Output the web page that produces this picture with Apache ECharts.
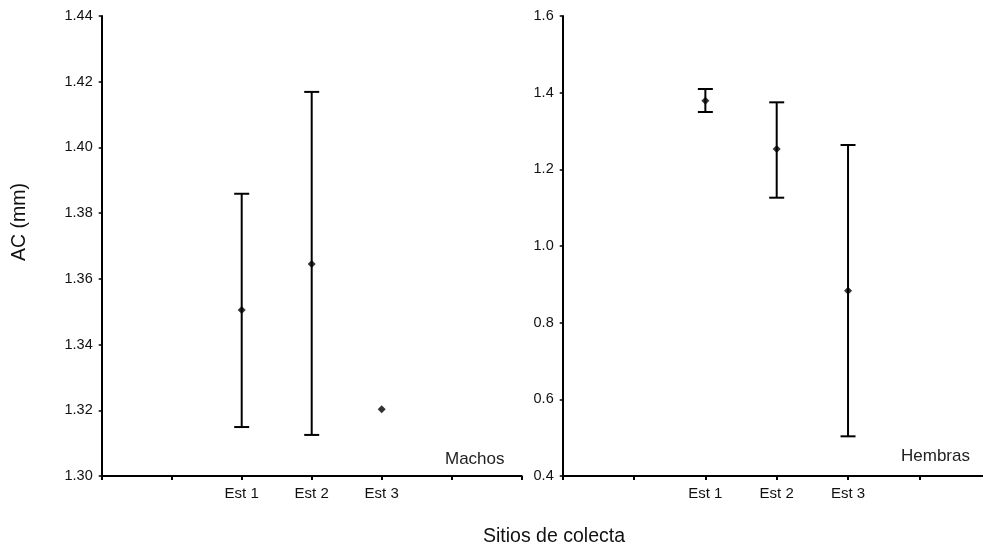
<!DOCTYPE html>
<html>
<head>
<meta charset="utf-8">
<script src="https://cdn.jsdelivr.net/npm/echarts@6/dist/echarts.min.js"></script>
<style>
  html, body { margin: 0; padding: 0; background: #fff; }
  #chart { width: 983px; height: 551px; }
</style>
</head>
<body>
<div id="chart"></div>
<script>
// Collection sites; the axis has two empty slots on each side
const sites = ['Est 1', 'Est 2', 'Est 3'];
const axisSlots = ['', '', 'Est 1', 'Est 2', 'Est 3', '', ''];

// Males: mean with lower / upper limits (Est 3 has no spread)
const machosMean = [1.3505, 1.3645, 1.3203];
const machosLow  = [1.3149, 1.3125, null];
const machosHigh = [1.3859, 1.4169, null];

// Females: mean with lower / upper limits
const hembrasMean = [1.379, 1.253, 0.8835];
const hembrasLow  = [1.3496, 1.126, 0.5035];
const hembrasHigh = [1.4096, 1.3748, 1.2635];

// Y axis ranges and steps
const machosAxis  = { min: 1.30, max: 1.44, step: 0.02, digits: 2 };
const hembrasAxis = { min: 0.4, max: 1.6, step: 0.2, digits: 1 };

const FONT = 'Liberation Sans, Arial, sans-serif';
const INK = '#000';

function errorData(low, high) {
  const out = [];
  sites.forEach((s, i) => {
    if (low[i] != null && high[i] != null) out.push([s, low[i], high[i]]);
  });
  return out;
}
function meanData(mean) {
  return sites.map((s, i) => [s, mean[i]]);
}

function renderBar(params, api) {
  const x = api.value(0);
  const lo = api.coord([x, api.value(1)]);
  const hi = api.coord([x, api.value(2)]);
  const half = 7.5;
  const style = { stroke: INK, lineWidth: 2 };
  return {
    type: 'group',
    children: [
      { type: 'line', shape: { x1: lo[0], y1: lo[1], x2: hi[0], y2: hi[1] }, style },
      { type: 'line', shape: { x1: hi[0] - half, y1: hi[1], x2: hi[0] + half, y2: hi[1] }, style },
      { type: 'line', shape: { x1: lo[0] - half, y1: lo[1], x2: lo[0] + half, y2: lo[1] }, style }
    ]
  };
}

function xAxis(gridIndex) {
  return {
    type: 'category', gridIndex, data: axisSlots, boundaryGap: false,
    axisLine: { lineStyle: { color: INK, width: 2 } },
    axisTick: { show: true, length: 4, interval: 0, lineStyle: { color: INK, width: 2 } },
    axisLabel: { interval: 0, color: '#111', fontFamily: FONT, fontSize: 15, margin: 10 },
    splitLine: { show: false }
  };
}
function yAxis(gridIndex, ax) {
  return {
    type: 'value', gridIndex, min: ax.min, max: ax.max, interval: ax.step,
    axisLine: { show: true, lineStyle: { color: INK, width: 2 } },
    axisTick: { show: true, length: 3, lineStyle: { color: INK, width: 1.5 } },
    axisLabel: { color: '#111', fontFamily: FONT, fontSize: 14.5, margin: 9,
                 formatter: v => v.toFixed(ax.digits) },
    splitLine: { show: false }
  };
}

const chart = echarts.init(document.getElementById('chart'), null, { renderer: 'canvas' });
chart.setOption({
  animation: false,
  backgroundColor: '#fff',
  grid: [
    { left: 101.7, top: 16, width: 420, height: 460, outerBoundsMode: 'none', containLabel: false },
    { left: 562.7, top: 16, width: 428, height: 460, outerBoundsMode: 'none', containLabel: false }
  ],
  xAxis: [xAxis(0), xAxis(1)],
  yAxis: [yAxis(0, machosAxis), yAxis(1, hembrasAxis)],
  series: [
    { type: 'custom', xAxisIndex: 0, yAxisIndex: 0, data: errorData(machosLow, machosHigh),
      renderItem: renderBar, encode: { x: 0, y: [1, 2] }, z: 2 },
    { type: 'scatter', xAxisIndex: 0, yAxisIndex: 0, data: meanData(machosMean),
      symbol: 'diamond', symbolSize: 8, itemStyle: { color: INK }, z: 3 },
    { type: 'custom', xAxisIndex: 1, yAxisIndex: 1, data: errorData(hembrasLow, hembrasHigh),
      renderItem: renderBar, encode: { x: 0, y: [1, 2] }, z: 2 },
    { type: 'scatter', xAxisIndex: 1, yAxisIndex: 1, data: meanData(hembrasMean),
      symbol: 'diamond', symbolSize: 8, itemStyle: { color: INK }, z: 3 }
  ],
  graphic: [
    { type: 'text', left: 445, top: 451,
      style: { text: 'Machos', fontFamily: FONT, fontSize: 17, fill: '#222' } },
    { type: 'text', left: 901, top: 448,
      style: { text: 'Hembras', fontFamily: FONT, fontSize: 17, fill: '#222' } },
    { type: 'text', x: 554, y: 537,
      style: { text: 'Sitios de colecta', fontFamily: FONT, fontSize: 19.5, fill: '#111',
               align: 'center', verticalAlign: 'middle' } },
    { type: 'text', x: 20, y: 222, rotation: Math.PI / 2,
      style: { text: 'AC (mm)', fontFamily: FONT, fontSize: 19.5, fill: '#111',
               align: 'center', verticalAlign: 'middle' } }
  ]
});
</script>
</body>
</html>
